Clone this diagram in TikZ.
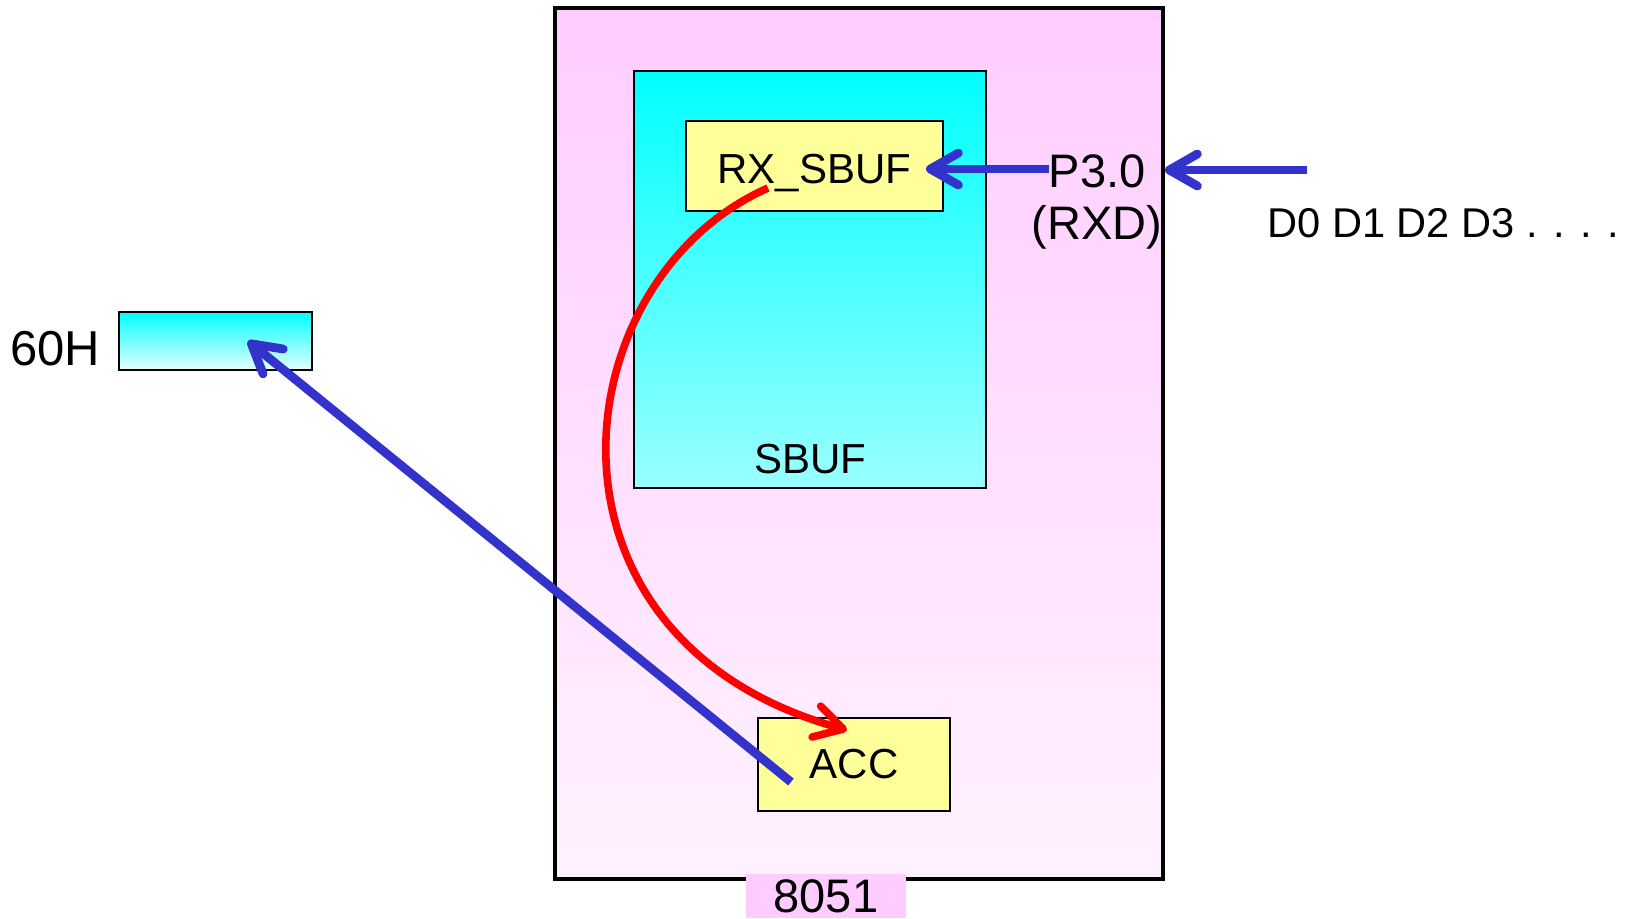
\documentclass[tikz,border=0pt]{standalone}
\usepackage{fontspec}
\setmainfont{Liberation Sans}
\usetikzlibrary{arrows.meta}
\definecolor{pinkT}{HTML}{FFCCFF}
\definecolor{pinkB}{HTML}{FFF2FF}
\definecolor{cyanT}{HTML}{00FFFF}
\definecolor{cyanB}{HTML}{99FFFF}
\definecolor{cyanW}{HTML}{E6FFFF}
\definecolor{yellowbox}{HTML}{FFFF99}
\definecolor{arrowblue}{HTML}{3333CC}
\definecolor{arrowred}{HTML}{FF0000}
\begin{document}
\begin{tikzpicture}[x=0.5pt,y=-0.5pt,
  box/.style={draw=black, line width=0.75pt, inner sep=0pt, rectangle},
  chipbox/.style={draw=black, line width=2.2pt, inner sep=0pt, rectangle, top color=pinkT, bottom color=pinkB},
  txtA/.style={font=\fontsize{21}{25}\selectfont, inner sep=0pt},
  txtB/.style={font=\fontsize{23.5}{26}\selectfont, inner sep=0pt},
  bluearrow/.style={draw=arrowblue, line width=4.4pt, -{Straight Barb[length=14pt,width=16pt,round]}},
  redarrow/.style={draw=arrowred, line width=3.8pt, -{Straight Barb[length=14pt,width=16pt,round]}}
]
\useasboundingbox (0,0) rectangle (1626,918);
\node[chipbox, minimum width=304pt, minimum height=435.5pt] (chip) at (859,443.5) {};
\node[box, top color=cyanT, bottom color=cyanB, minimum width=176pt, minimum height=208.5pt] (sbuf) at (810,279.5) {};
\node[txtA] (sbuflabel) at (810,459) {SBUF};
\node[box, fill=yellowbox, minimum width=128.5pt, minimum height=45pt, txtA, text depth=0pt, text height=17.5pt] (rx) at (814.5,166) {RX\_SBUF};
\node[box, fill=yellowbox, minimum width=96pt, minimum height=46.5pt, txtA] (acc) at (854,764.5) {ACC};
\node[fill=pinkT, minimum width=80pt, minimum height=22pt, txtB] (chipname) at (826,896) {8051};
\node[box, top color=cyanT, bottom color=cyanW, minimum width=96.5pt, minimum height=29pt] (mem) at (215.5,341) {};
\node[txtB, font=\fontsize{24.5}{26}\selectfont] (memlabel) at (55,349) {60H};
\node[txtB, align=center] (p30) at (1097,202) {P3.0\\(RXD)};
\node[txtA, font=\fontsize{20.8}{25}\selectfont, anchor=west] (bits) at (1267,223) {D0 D1 D2 D3 . . . .};
\coordinate (bitsEnd) at (1307,170);
\coordinate (pinIn) at (1165,170);
\coordinate (pinOut) at (1049,169);
\coordinate (rxIn) at (926,169);
\coordinate (rxOut) at (768,188);
\coordinate (accIn) at (847,730);
\coordinate (accOut) at (791,782);
\coordinate (memIn) at (248,341);
\draw[bluearrow] (bitsEnd) -- (pinIn);
\draw[bluearrow] (pinOut) -- (rxIn);
\draw[redarrow] (rxOut) .. controls (560,280) and (520,640) .. (accIn);
\draw[bluearrow] (accOut) -- (memIn);
\end{tikzpicture}
\end{document}
